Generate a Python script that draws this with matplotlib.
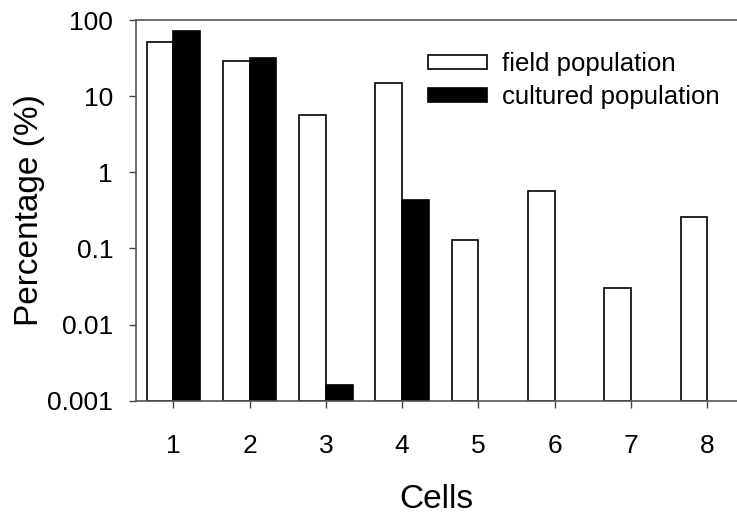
import numpy as np
import matplotlib
matplotlib.use("Agg")
import matplotlib.pyplot as plt

plt.rcParams["font.family"] = ["Liberation Sans", "DejaVu Sans"]

cells = [1, 2, 3, 4, 5, 6, 7, 8]
field_pct = [52, 29, 5.6, 14.7, 0.13, 0.57, 0.03, 0.26]
cultured_pct = [71, 31.7, 0.0016, 0.43, np.nan, np.nan, np.nan, np.nan]
yticks = [0.001, 0.01, 0.1, 1, 10, 100]
ytick_labels = ["0.001", "0.01", "0.1", "1", "10", "100"]

W, H = 737, 515
fig = plt.figure(figsize=(W / 100, H / 100), dpi=100)
ax = fig.add_axes([136 / W, 1 - 400.7 / H, 1 - 136 / W, (400.7 - 20) / H])

x = np.array(cells, dtype=float)
w = 0.35
base = 0.001
ax.bar(x - w / 2, np.array(field_pct) - base, w, bottom=base, color="white",
       edgecolor="black", lw=1.2, label="field population")
ax.bar(x + w / 2, np.array(cultured_pct) - base, w, bottom=base, color="black",
       edgecolor="black", lw=1.2, label="cultured population")

ax.set_yscale("log")
ax.set_ylim(0.001, 100)
ax.set_xlim(0.51, 8.39)
ax.set_yticks(yticks)
ax.set_yticklabels(ytick_labels)
ax.minorticks_off()
ax.set_xticks(cells)
ax.tick_params(labelsize=19, length=5, width=1, color="#444444", direction="out")
ax.tick_params(axis="x", pad=18.7)
ax.tick_params(axis="y", pad=11.5)
ax.spines["right"].set_visible(False)
for s in ("top", "left", "bottom"):
    ax.spines[s].set_color("#555555")
    ax.spines[s].set_linewidth(1.2)

ax.set_xlabel("Cells", fontsize=24, labelpad=18.7)
ax.set_ylabel("Percentage (%)", fontsize=24, labelpad=2)

ax.legend(loc="upper left", bbox_to_anchor=(428 / W, 1 - 52 / H),
          bbox_transform=fig.transFigure, frameon=False, fontsize=18.5,
          handlelength=2.3, handleheight=0.5, handletextpad=0.57,
          labelspacing=0.36, borderaxespad=0, borderpad=0)

fig.savefig("out.png", dpi=100)
